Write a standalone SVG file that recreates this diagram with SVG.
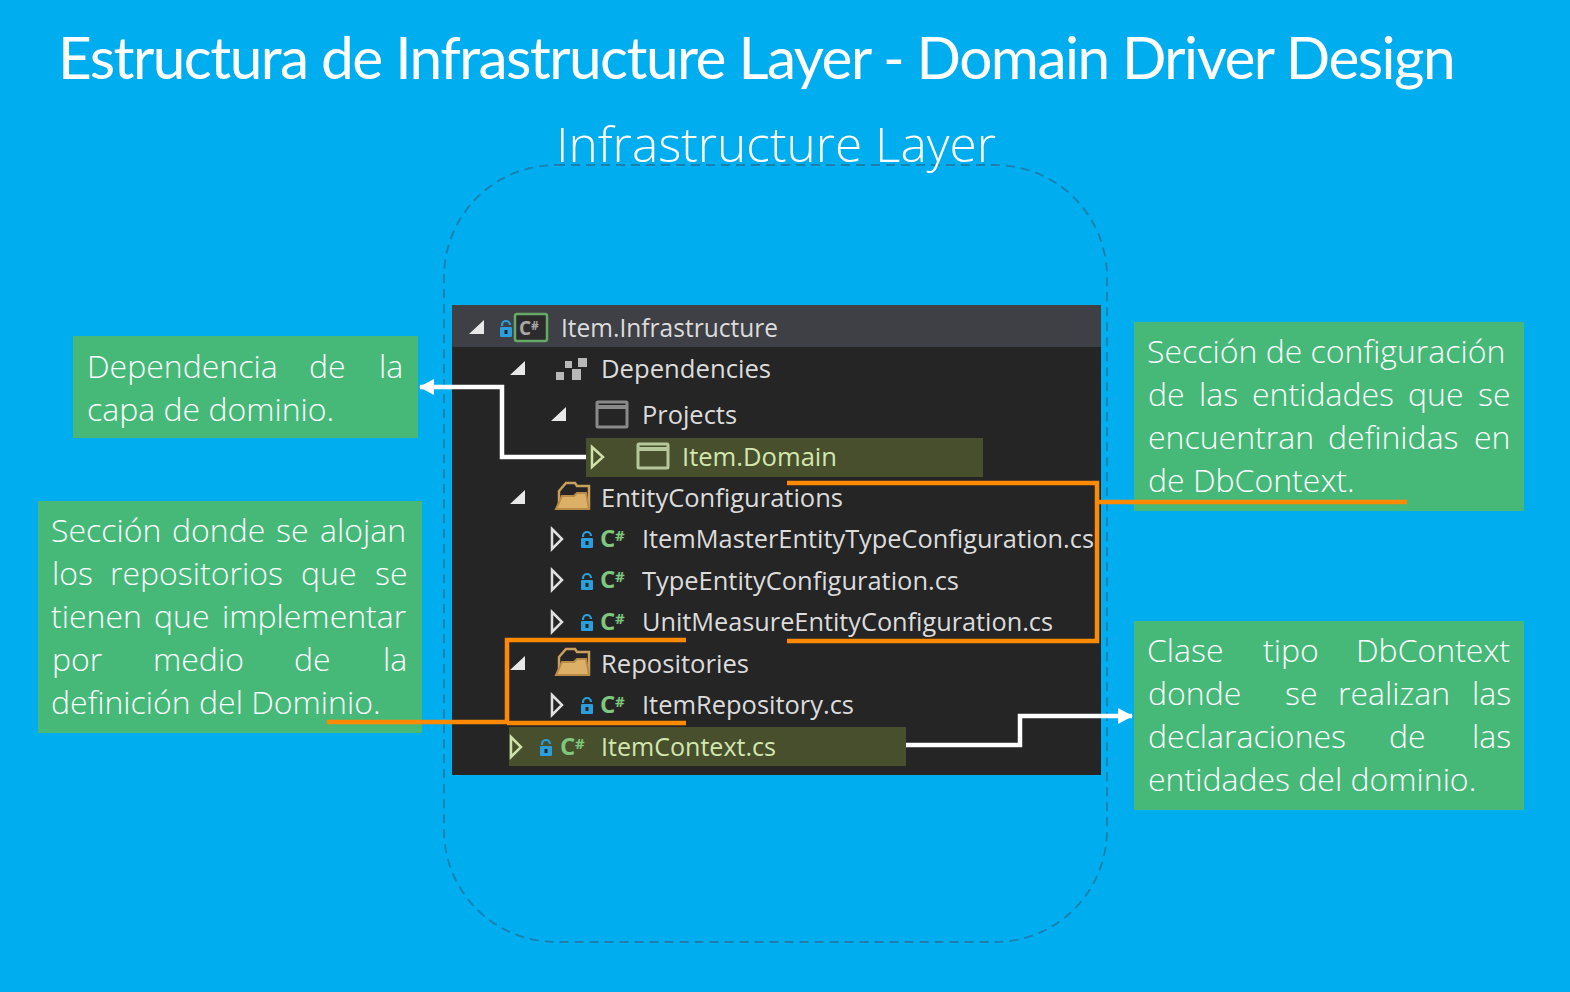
<svg xmlns="http://www.w3.org/2000/svg" width="1570" height="992" viewBox="0 0 1570 992">
<style>
.note{font:300 32px "Open Sans",sans-serif;fill:#fff}
.tree{font:400 25.5px "Open Sans",sans-serif;fill:#dcdcdc}
.hl{fill:#d3e6b0}
.cs{font:700 24px "Open Sans",sans-serif;fill:#7ec77e}
.sh{font:700 15px "Open Sans",sans-serif;fill:#7ec77e}
.box{fill:#46b978}
.or{fill:none;stroke:#ff8a00;stroke-width:4.5}
.wh{fill:none;stroke:#fff;stroke-width:4.5}
.tri{fill:#e8e8e8}
.open{fill:#252526;stroke:#e0e0e0;stroke-width:2.5}
.lock{fill:#2a9fdc}
.folder{fill:#dcb067;stroke:#b98b46;stroke-width:2}
.win{fill:#252526;stroke:#8a8a8a;stroke-width:3}
</style>
<defs>
<g id="lk"><rect x="-6" y="-1" width="12" height="10" rx="1" class="lock"/><rect x="-1.5" y="2" width="3" height="4" fill="#252526"/><path d="M-4 -2v-1a4 4 0 0 1 8 0" fill="none" stroke="#2a9fdc" stroke-width="2.2"/></g>
<g id="fold"><path d="M3 9l7-8h9l2 3h12v22H3z" fill="#252526" stroke="#c9a05b" stroke-width="2.5"/><path d="M0 27l6-13h12l3-3h9l3 16z" class="folder"/></g>
<marker id="ah" markerUnits="userSpaceOnUse" markerWidth="16" markerHeight="16" refX="14" refY="8" orient="auto"><path d="M0 0L15 8L0 16z" fill="#fff"/></marker>
</defs>
<rect width="1570" height="992" fill="#00adef"/>
<g id="title"><text x="58" y="79" font-family="Lato,sans-serif" font-size="58.5" fill="#fff" letter-spacing="-1.6" textLength="1396">Estructura de Infrastructure Layer - Domain Driver Design</text></g>
<g id="layer"><rect x="444" y="165" width="663" height="777" rx="112" fill="none" stroke="#1b7fae" stroke-width="1.8" stroke-dasharray="9 6"/>
<text x="556" y="162" font-family="'Open Sans',sans-serif" font-weight="300" font-size="47" fill="#fff" textLength="440" lengthAdjust="spacingAndGlyphs">Infrastructure Layer</text></g>
<g id="tree">
<rect x="452" y="305" width="649" height="470" fill="#252526"/>
<rect x="452" y="305" width="649" height="42" fill="#3f3f46"/>
<rect x="586" y="438" width="397" height="39" fill="#474f2c"/>
<rect x="509" y="727" width="397" height="39" fill="#474f2c"/>
<path class="tri" d="M484 320v14h-15zM525 361v14h-15zM566 407v14h-15zM525 490v14h-15zM525 656v14h-15z"/>
<path class="open" d="M592 447l11 10-11 10z" style="stroke:#cfe0a8;fill:none"/>
<path class="open" d="M552 529l10 10-10 10zM552 570l10 10-10 10zM552 612l10 10-10 10zM552 695l10 10-10 10z"/>
<path class="open" d="M511 737l10 10-10 10z" style="stroke:#cfe0a8;fill:none"/>
<use href="#lk" x="506" y="328"/><use href="#lk" x="587" y="539"/><use href="#lk" x="587" y="581"/><use href="#lk" x="587" y="622"/><use href="#lk" x="587" y="705"/><use href="#lk" x="546" y="747"/>
<rect x="515" y="314" width="32" height="27" rx="2" fill="#2b2b2e" stroke="#66a866" stroke-width="2.5"/>
<text x="519" y="335" font-family="'Open Sans',sans-serif" font-size="19" font-weight="700" fill="#a8a8a8">C<tspan font-size="12" dy="-5">#</tspan></text>
<text class="cs" x="600" y="547">C</text><text class="sh" x="615" y="541">#</text>
<text class="cs" x="600" y="588">C</text><text class="sh" x="615" y="582">#</text>
<text class="cs" x="600" y="630">C</text><text class="sh" x="615" y="624">#</text>
<text class="cs" x="600" y="713">C</text><text class="sh" x="615" y="707">#</text>
<text class="cs" x="560" y="755">C</text><text class="sh" x="575" y="749">#</text>
<path d="M556 372h8v8h-8zM565 361h7v7h-7zM578 358h9v9h-9zM572 369h9v11h-9z" fill="#b8b8b8"/>
<rect x="597" y="402" width="30" height="25" rx="1" class="win"/><path d="M597 407h30" stroke="#8a8a8a" stroke-width="4"/>
<rect x="638" y="444" width="30" height="24" rx="1" fill="#474f2c" stroke="#b6c79c" stroke-width="3"/><path d="M638 449h30" stroke="#b6c79c" stroke-width="4"/>
<use href="#fold" x="556" y="482"/><use href="#fold" x="556" y="648"/>
<text class="tree" x="561" y="337" textLength="217" lengthAdjust="spacingAndGlyphs">Item.Infrastructure</text>
<text class="tree" x="601" y="378" textLength="170" lengthAdjust="spacingAndGlyphs">Dependencies</text>
<text class="tree" x="642" y="424" textLength="95" lengthAdjust="spacingAndGlyphs">Projects</text>
<text class="tree hl" x="682" y="466" textLength="155" lengthAdjust="spacingAndGlyphs">Item.Domain</text>
<text class="tree" x="601" y="507" textLength="242" lengthAdjust="spacingAndGlyphs">EntityConfigurations</text>
<text class="tree" x="642" y="548" textLength="452" lengthAdjust="spacingAndGlyphs">ItemMasterEntityTypeConfiguration.cs</text>
<text class="tree" x="642" y="590" textLength="317" lengthAdjust="spacingAndGlyphs">TypeEntityConfiguration.cs</text>
<text class="tree" x="642" y="631" textLength="411" lengthAdjust="spacingAndGlyphs">UnitMeasureEntityConfiguration.cs</text>
<text class="tree" x="601" y="673" textLength="148" lengthAdjust="spacingAndGlyphs">Repositories</text>
<text class="tree" x="642" y="714" textLength="212" lengthAdjust="spacingAndGlyphs">ItemRepository.cs</text>
<text class="tree hl" x="601" y="756" textLength="175" lengthAdjust="spacingAndGlyphs">ItemContext.cs</text>
</g>
<g id="note-dependencia"><rect class="box" x="73" y="336" width="345" height="102"/>
<text class="note" y="378"><tspan x="87">Dependencia</tspan><tspan x="309">de</tspan><tspan x="379">la</tspan></text>
<text class="note" x="87" y="421">capa de dominio.</text></g>
<g id="note-repositorios"><rect class="box" x="38" y="501" width="384" height="232"/>
<text class="note" y="542"><tspan x="51">Sección</tspan><tspan x="172">donde</tspan><tspan x="276">se</tspan><tspan x="320">alojan</tspan></text>
<text class="note" y="585"><tspan x="52">los</tspan><tspan x="110">repositorios</tspan><tspan x="301">que</tspan><tspan x="375">se</tspan></text>
<text class="note" y="628"><tspan x="51">tienen</tspan><tspan x="154">que</tspan><tspan x="222">implementar</tspan></text>
<text class="note" y="671"><tspan x="52">por</tspan><tspan x="153">medio</tspan><tspan x="294">de</tspan><tspan x="383">la</tspan></text>
<text class="note" x="51" y="714">definición del Dominio.</text></g>
<g id="note-configuracion"><rect class="box" x="1134" y="322" width="390" height="189"/>
<text class="note" x="1147" y="363">Sección de configuración</text>
<text class="note" y="406"><tspan x="1148">de</tspan><tspan x="1199">las</tspan><tspan x="1252">entidades</tspan><tspan x="1408">que</tspan><tspan x="1478">se</tspan></text>
<text class="note" y="449"><tspan x="1148">encuentran</tspan><tspan x="1328">definidas</tspan><tspan x="1474">en</tspan></text>
<text class="note" x="1148" y="492">de DbContext.</text></g>
<g id="note-contexto"><rect class="box" x="1134" y="621" width="390" height="189"/>
<text class="note" y="662"><tspan x="1147">Clase</tspan><tspan x="1263">tipo</tspan><tspan x="1356">DbContext</tspan></text>
<text class="note" y="705"><tspan x="1148">donde</tspan><tspan x="1285">se</tspan><tspan x="1338">realizan</tspan><tspan x="1472">las</tspan></text>
<text class="note" y="748"><tspan x="1148">declaraciones</tspan><tspan x="1389">de</tspan><tspan x="1472">las</tspan></text>
<text class="note" x="1148" y="791">entidades del dominio.</text></g>
<g id="connectors">
<path class="or" d="M787 483H1097V641H787M1097 502H1407"/>
<path class="or" d="M686 640H507V722M327 722H507M507 723H686"/>
<path class="wh" d="M586 457H502V387H420" marker-end="url(#ah)"/>
<path class="wh" d="M906 745H1020V716H1132" marker-end="url(#ah)"/>
</g>
</svg>
